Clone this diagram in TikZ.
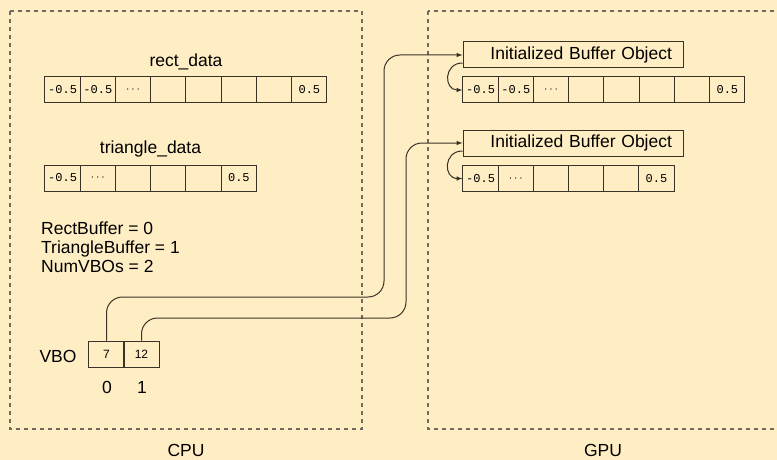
\documentclass[tikz,border=0pt]{standalone}
\usepackage{fontspec}
\setmainfont{Liberation Sans}
\newfontfamily\cellfont{Liberation Mono}
\usepackage{xcolor}
\definecolor{paper}{RGB}{255,238,196}
\definecolor{ink}{RGB}{58,50,38}
\definecolor{dashgray}{RGB}{112,106,96}

\begin{document}
\begin{tikzpicture}[x=1pt, y=-1pt, >=latex,
    every node/.style={font=\fontsize{17.5}{19}\selectfont, inner sep=0pt},
    cell/.style={draw=ink, line width=1pt, minimum width=35.25pt, minimum height=26pt,
        font=\cellfont\fontsize{12}{12}\selectfont},
    bufbox/.style={draw=ink, line width=1pt, minimum height=26pt, text width=198pt,
        inner xsep=11pt, align=right},
    region/.style={draw=dashgray, line width=1.2pt, dash pattern=on 4pt off 4pt},
    link/.style={draw=ink, line width=1pt, rounded corners=16pt}]
    \clip (0,0) rectangle (777,460);
    \fill[paper] (0,0) rectangle (777,460);

    % CPU and GPU regions
    \draw[region] (10,11) rectangle (362,429);
    \draw[region] (428,11) rectangle (779,429);
    \node (cpu) at (186,450) {CPU};
    \node (gpu) at (603,450) {GPU};

    % Data arrays on the CPU
    \node (rlabel) at (186,62) {rect\_data};
    \foreach \v [count=\i from 0] in {-0.5,-0.5,$\cdots$,{},{},{},{},0.5}
        \node[cell] (r\i) at ({62.6+35.25*\i},90) {\v};
    \node (tlabel) at (150.5,149) {triangle\_data};
    \foreach \v [count=\i from 0] in {-0.5,$\cdots$,{},{},{},0.5}
        \node[cell] (t\i) at ({62.6+35.25*\i},178) {\v};

    % Buffer names
    \node[align=left, anchor=west] (vars) at (41,247) {RectBuffer = 0\\TriangleBuffer = 1\\NumVBOs = 2};

    % VBO array
    \node (vbo) at (58,356) {VBO};
    \node[cell, font=\fontsize{12}{12}\selectfont] (v0) at (106.5,354) {7};
    \node[cell, font=\fontsize{12}{12}\selectfont] (v1) at (141.5,354) {12};
    \node (i0) at (107,387) {0};
    \node (i1) at (142,387) {1};

    % Buffers on the GPU
    \node[bufbox] (buf1) at (573,55) {Initialized Buffer Object};
    \foreach \v [count=\i from 0] in {-0.5,-0.5,$\cdots$,{},{},{},{},0.5}
        \node[cell] (g\i) at ({480.6+35.25*\i},90) {\v};
    \node[bufbox] (buf2) at (573,143) {Initialized Buffer Object};
    \foreach \v [count=\i from 0] in {-0.5,$\cdots$,{},{},{},0.5}
        \node[cell] (h\i) at ({480.6+35.17*\i},178.5) {\v};

    % Connectors
    \coordinate (bend1) at (384,297);
    \coordinate (bend2) at (406,318);
    \draw[link, ->] (v0.north) |- (bend1) |- (buf1.west);
    \draw[link, ->] (v1.north) |- (bend2) |- (buf2.west);
    \draw[->, ink, line width=1pt] ([yshift=-8pt]buf1.west) to[out=180, in=180, looseness=1.8] (g0.west);
    \draw[->, ink, line width=1pt] ([yshift=-8pt]buf2.west) to[out=180, in=180, looseness=1.8] (h0.west);
\end{tikzpicture}
\end{document}
